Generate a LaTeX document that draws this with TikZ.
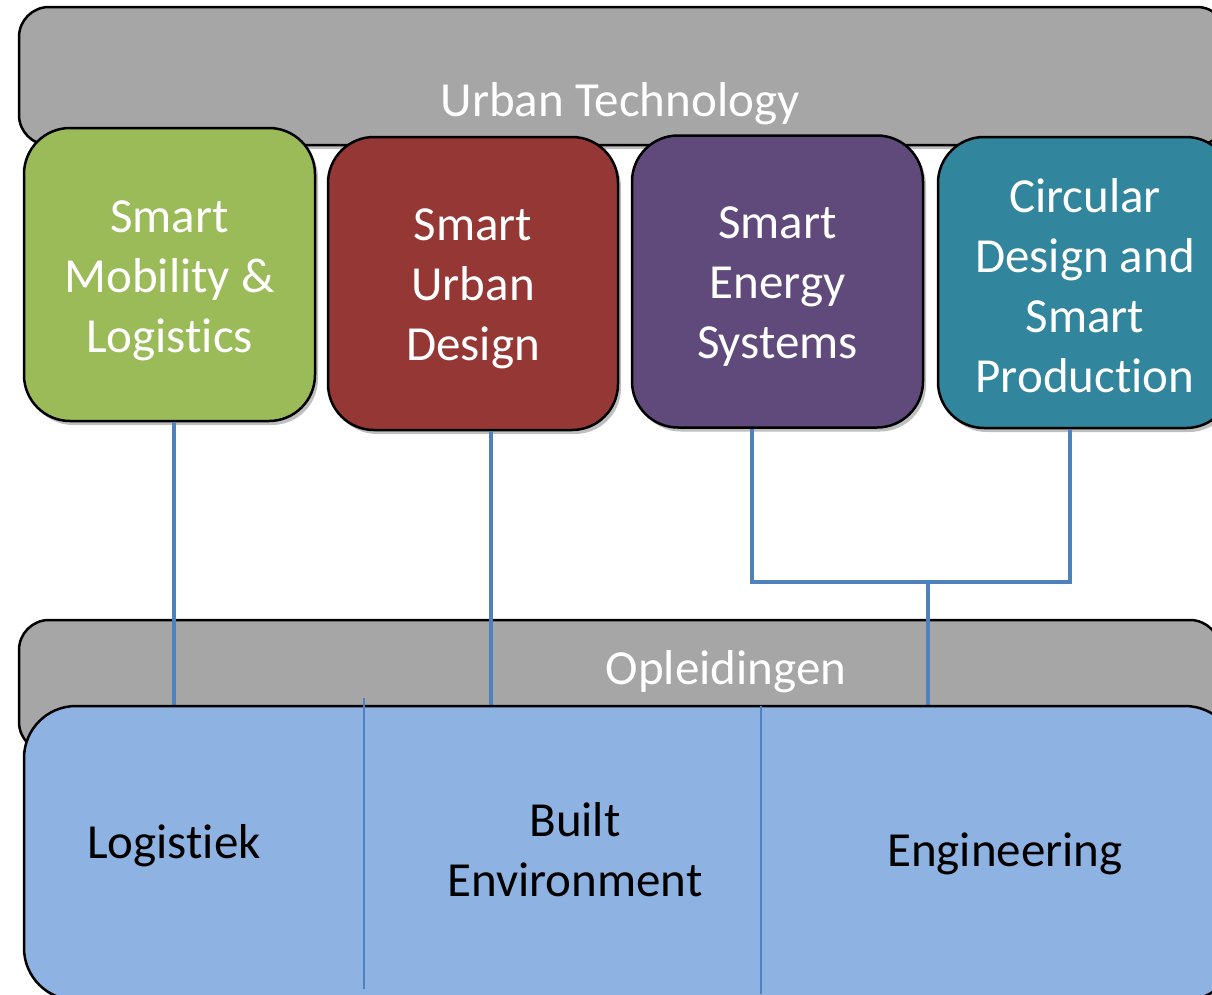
\documentclass[tikz,border=0pt]{standalone}
\usepackage{fontspec}
\setmainfont{Carlito}[Ligatures=NoCommon]
\usetikzlibrary{shadows}
\definecolor{ggray}{HTML}{A6A6A6}
\definecolor{ggreen}{HTML}{9BBB59}
\definecolor{gred}{HTML}{953735}
\definecolor{gpurple}{HTML}{604A7B}
\definecolor{gteal}{HTML}{31859C}
\definecolor{gblue}{HTML}{8EB3E2}
\definecolor{gline}{HTML}{4F81BD}
\tikzset{
  bigfont/.style={font=\fontsize{49}{60}\selectfont},
  boxshadow/.style={drop shadow={shadow xshift=3pt, shadow yshift=-4pt, opacity=0.25, fill=black}},
  panel/.style={draw=black, line width=2.5pt, rounded corners=30pt, fill=ggray, boxshadow, inner sep=0pt},
  topic/.style={draw=black, line width=2.5pt, rounded corners=46pt, boxshadow, inner sep=0pt},
  edubox/.style={draw=black, line width=2.5pt, rounded corners=52pt, fill=gblue, boxshadow, inner sep=0pt},
  lbl/.style={bigfont, align=center, inner sep=0pt},
  whitelbl/.style={lbl, text=white},
  darklbl/.style={lbl, text=black},
  conn/.style={draw=gline, line width=4.5pt},
  divider/.style={draw=gline, line width=2pt},
}
\begin{document}
\begin{tikzpicture}[x=1pt,y=-1pt]
\useasboundingbox (0,0) rectangle (1212,994);
\clip (0,0) rectangle (1212,994);
% top panel
\node[panel, minimum width=1208, minimum height=138] (urban) at (623,76) {};
\node[whitelbl] (urbant) at (620,104) {Urban Technology};
% topic boxes
\node[topic, fill=ggreen, minimum width=291, minimum height=293] (sml) at (169.5,274.5) {};
\node[topic, fill=gred, minimum width=290, minimum height=293] (sud) at (473,283.5) {};
\node[topic, fill=gpurple, minimum width=291, minimum height=292] (ses) at (777.5,281.5) {};
\node[topic, fill=gteal, minimum width=294, minimum height=291] (cdsp) at (1085,282.5) {};
\node[whitelbl] (smlt) at ([yshift=-6pt]sml.center) {Smart\\Mobility \&\\Logistics};
\node[whitelbl] (sudt) at ([yshift=-5pt]sud.center) {Smart\\Urban\\Design};
\node[whitelbl] (sest) at ([yshift=-5pt]ses.center) {Smart\\Energy\\Systems};
\node[whitelbl] (cdspt) at ([yshift=-3pt]cdsp.center) {Circular\\Design and\\Smart\\Production};
% bottom panel
\node[panel, minimum width=1201, minimum height=132] (opl) at (619.5,686) {};
\coordinate (j) at (928,582);
% connectors
\draw[conn] ([xshift=4.5pt]sml.south) -- ([xshift=4.5pt]sml.south |- 0,707);
\draw[conn] ([xshift=18pt]sud.south) -- ([xshift=18pt]sud.south |- 0,712);
\draw[conn] ([xshift=-25.5pt]ses.south) |- ([xshift=-15pt]cdsp.south |- j) -- ([xshift=-15pt]cdsp.south);
\draw[conn] (j) -- (j |- 0,707);
\node[whitelbl] (oplt) at (726,672) {Opleidingen};
% education box
\node[edubox, minimum width=1213, minimum height=294] (edu) at (630.5,853) {};
\draw[divider] (364,698) -- (364,989);
\draw[divider] (761,706) -- (761,994);
\node[darklbl] (log) at (174,846) {Logistiek};
\node[darklbl] (be) at (575,850) {Built\\Environment};
\node[darklbl] (eng) at (1005,854) {Engineering};
\end{tikzpicture}
\end{document}
